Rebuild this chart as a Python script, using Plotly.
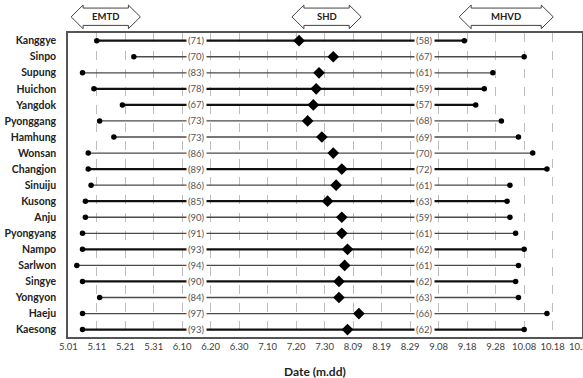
import plotly.graph_objects as go

# ---------------- data (day of year) ----------------
stations = ["Kanggye", "Sinpo", "Supung", "Huichon", "Yangdok", "Pyonggang", "Hamhung",
            "Wonsan", "Changjon", "Sinuiju", "Kusong", "Anju", "Pyongyang", "Nampo",
            "Sarlwon", "Singye", "Yongyon", "Haeju", "Kaesong"]
emtd = [131, 144, 126, 130, 140, 132, 137, 128, 128, 129, 127, 127, 126, 126, 124, 126, 132, 126, 126]
shd = [202, 214, 209, 208, 207, 205, 210, 214, 217, 215, 212, 217, 217, 219, 218, 216, 216, 223, 219]
mhvd = [260, 281, 270, 267, 264, 273, 279, 284, 289, 276, 275, 276, 278, 281, 279, 278, 279, 289, 281]
days_emtd_shd = ["(71)", "(70)", "(83)", "(78)", "(67)", "(73)", "(73)", "(86)", "(89)", "(86)",
                 "(85)", "(90)", "(91)", "(93)", "(94)", "(90)", "(84)", "(97)", "(93)"]
days_shd_mhvd = ["(58)", "(67)", "(61)", "(59)", "(57)", "(68)", "(69)", "(70)", "(72)", "(61)",
                 "(63)", "(59)", "(61)", "(62)", "(61)", "(62)", "(63)", "(66)", "(62)"]
tick_vals = [121, 131, 141, 151, 161, 171, 181, 191, 201, 211, 221, 231, 241, 251, 261, 271, 281, 291, 301]
tick_text = ["5.01", "5.11", "5.21", "5.31", "6.10", "6.20", "6.30", "7.10", "7.20", "7.30",
             "8.09", "8.19", "8.29", "9.08", "9.18", "9.28", "10.08", "10.18", "10.28"]
headers = ["EMTD", "SHD", "MHVD"]

# ---------------- styles ----------------
heavy_rows = {"Kanggye", "Huichon", "Yangdok", "Changjon", "Kusong", "Nampo", "Singye", "Kaesong"}
label1_x = 166
label2_x = 246
header_spans = [(122, 146.3), (199.5, 223.8), (258.2, 291.2)]

fig = go.Figure()

for heavy in (True, False):
    xs, ys = [], []
    for i, s in enumerate(stations):
        if (s in heavy_rows) == heavy:
            xs += [emtd[i], mhvd[i], None]
            ys += [i, i, None]
    fig.add_trace(go.Scatter(
        x=xs, y=ys, mode="lines", hoverinfo="skip",
        line=dict(color="#111111" if heavy else "#4a4a4a", width=2.2 if heavy else 1.3),
        showlegend=False))

idx = list(range(len(stations)))
fig.add_trace(go.Scatter(x=emtd, y=idx, mode="markers", showlegend=False,
                         marker=dict(symbol="circle", size=5.5, color="#000000")))
fig.add_trace(go.Scatter(x=mhvd, y=idx, mode="markers", showlegend=False,
                         marker=dict(symbol="circle", size=5.5, color="#000000")))
fig.add_trace(go.Scatter(x=shd, y=idx, mode="markers", showlegend=False,
                         marker=dict(symbol="diamond", size=9, color="#000000")))

annotations = []
for i in idx:
    for xv, txt in ((label1_x, days_emtd_shd[i]), (label2_x, days_shd_mhvd[i])):
        annotations.append(dict(x=xv, y=i, xref="x", yref="y", text=txt, showarrow=False,
                                font=dict(family="Lato", size=9.5, color="#555555"),
                                bgcolor="white", borderpad=1, xanchor="center", yanchor="middle"))

# header double arrows
shapes = []
y_tip_top, y_body_top, y_mid, y_body_bot, y_tip_bot = 1.092, 1.082, 1.053, 1.025, 1.014
head = 4.2
for (x0, x1), name in zip(header_spans, headers):
    path = (f"M {x0},{y_mid} L {x0+head},{y_tip_top} L {x0+head},{y_body_top} "
            f"L {x1-head},{y_body_top} L {x1-head},{y_tip_top} L {x1},{y_mid} "
            f"L {x1-head},{y_tip_bot} L {x1-head},{y_body_bot} L {x0+head},{y_body_bot} "
            f"L {x0+head},{y_tip_bot} Z")
    shapes.append(dict(type="path", path=path, xref="x", yref="paper",
                       line=dict(color="#444444", width=1), fillcolor="white"))
    annotations.append(dict(x=(x0 + x1) / 2, y=y_mid, xref="x", yref="paper", text=f"<b>{name}</b>",
                            showarrow=False, font=dict(family="Lato", size=9.5, color="#222222"),
                            xanchor="center", yanchor="middle"))

annotations.append(dict(x=0.481, y=-0.112, xref="paper", yref="paper", text="<b>Date (m.dd)</b>",
                        showarrow=False, font=dict(family="Lato", size=12, color="#222222"),
                        xanchor="center", yanchor="middle"))

fig.update_layout(
    width=583, height=378,
    margin=dict(l=68, r=1, t=33, b=41),
    paper_bgcolor="white", plot_bgcolor="white",
    shapes=shapes, annotations=annotations,
    xaxis=dict(range=[120.9, 301.3], tickvals=tick_vals, ticktext=tick_text,
               showgrid=True, gridcolor="#bdbdbd", griddash="dash", gridwidth=1,
               showline=True, linecolor="#555555", linewidth=1.5, mirror=True,
               ticks="", tickfont=dict(family="Lato", size=9.5, color="#404040"),
               ticklabeloverflow="allow",
               zeroline=False, fixedrange=True, automargin=False),
    yaxis=dict(range=[18.46, -0.48], tickvals=idx, ticktext=[f"<b>{s}</b>" for s in stations],
               showgrid=False, showline=True, linecolor="#555555", linewidth=1.5, mirror=True,
               ticks="", ticklabelstandoff=8,
               tickfont=dict(family="Lato", size=10.5, color="#222222"),
               zeroline=False, fixedrange=True, automargin=False),
)

fig.write_html("out.html")
